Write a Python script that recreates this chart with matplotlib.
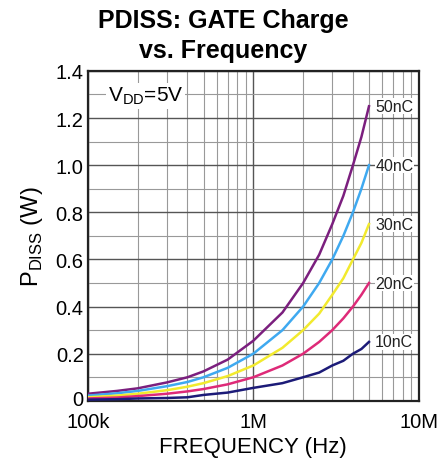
import matplotlib
matplotlib.use('Agg')
import matplotlib.pyplot as plt
from matplotlib.ticker import FixedLocator, NullFormatter
from matplotlib.transforms import ScaledTranslation

plt.rcParams['font.family'] = ['Liberation Sans', 'DejaVu Sans']

# frequency points (Hz)
freq = [100e3, 150e3, 200e3, 300e3, 400e3, 500e3, 700e3, 1e6, 1.5e6, 2e6, 2.5e6, 3e6, 3.5e6, 4e6, 4.5e6, 5e6]
# PDISS (W) for each gate charge
p50 = [0.030, 0.042, 0.053, 0.078, 0.100, 0.125, 0.175, 0.255, 0.375, 0.50, 0.62, 0.75, 0.87, 1.00, 1.12, 1.25]
p40 = [0.022, 0.032, 0.042, 0.062, 0.080, 0.100, 0.140, 0.200, 0.300, 0.40, 0.50, 0.60, 0.70, 0.80, 0.90, 1.00]
p30 = [0.015, 0.022, 0.030, 0.045, 0.060, 0.075, 0.105, 0.150, 0.225, 0.30, 0.37, 0.45, 0.52, 0.60, 0.67, 0.75]
p20 = [0.010, 0.014, 0.020, 0.030, 0.040, 0.050, 0.070, 0.100, 0.150, 0.20, 0.25, 0.30, 0.35, 0.40, 0.45, 0.50]
p10 = [0.005, 0.007, 0.010, 0.012, 0.015, 0.025, 0.035, 0.055, 0.075, 0.10, 0.12, 0.15, 0.17, 0.20, 0.22, 0.25]

series = [('50nC', p50, '#7b1f7e'), ('40nC', p40, '#3fa9f0'), ('30nC', p30, '#f2ea2e'),
          ('20nC', p20, '#de2a78'), ('10nC', p10, '#1c1b78')]

fig = plt.figure(figsize=(4.46, 4.64), dpi=100)
ax = fig.add_axes([0.197, 0.134, 0.742, 0.711])

for name, vals, col in series:
    ax.plot(freq, vals, color=col, lw=1.8, zorder=3)
    ax.text(freq[-1] * 1.09, vals[-1], name, fontsize=11.5, va='center', ha='left',
            color='#222222', zorder=4,
            bbox=dict(facecolor='white', edgecolor='none', pad=0.3))

ax.set_xscale('log')
ax.set_xlim(1e5, 1e7)
ax.set_ylim(0, 1.4)
ax.set_xticks([1e5, 1e6, 1e7])
ax.set_xticklabels(['100k', '1M', '10M'])
ax.xaxis.set_minor_formatter(NullFormatter())
ax.set_yticks([0, 0.2, 0.4, 0.6, 0.8, 1.0, 1.2, 1.4])
ax.set_yticklabels(['0', '0.2', '0.4', '0.6', '0.8', '1.0', '1.2', '1.4'])
ax.yaxis.set_minor_locator(FixedLocator([0.1, 0.3, 0.5, 0.7, 0.9, 1.1, 1.3]))

ax.grid(which='major', color='#555555', lw=1.0)
ax.grid(which='minor', color='#999999', lw=0.8)
ax.tick_params(which='both', length=0, labelsize=14.5)
ax.tick_params(axis='x', pad=8)
ax.tick_params(axis='y', pad=3)
# nudge the "0" label up a little so it clears "100k"
zero_lab = ax.get_yticklabels()[0]
zero_lab.set_transform(zero_lab.get_transform() + ScaledTranslation(0, 3 / 100, fig.dpi_scale_trans))
for s in ax.spines.values():
    s.set_color('#222222')
    s.set_linewidth(1.6)

ax.set_xlabel('FREQUENCY (Hz)', fontsize=16, labelpad=4)
ax.set_ylabel(r'P$_{\mathregular{DISS}}$ (W)', fontsize=17, labelpad=8)
fig.suptitle('PDISS: GATE Charge\nvs. Frequency', fontsize=18, fontweight='bold', y=0.98,
             linespacing=1.3)

ax.text(0.06, 0.925, r'V$_{\mathregular{DD}}$=5V', transform=ax.transAxes, fontsize=15,
        va='center', ha='left', zorder=5,
        bbox=dict(facecolor='white', edgecolor='none', pad=1.5))

fig.savefig('out.png', dpi=100)
